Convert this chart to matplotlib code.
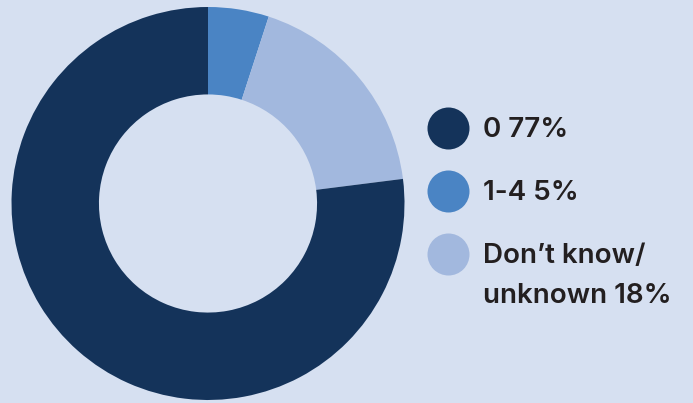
import matplotlib
matplotlib.use("Agg")
import matplotlib.pyplot as plt

# share of responses, drawn clockwise from 12 o'clock
ring_labels = ["1-4", "Don't know/\nunknown", "0"]
ring_values = [5, 18, 77]
ring_colors = ["#4a84c4", "#a2b8de", "#14335a"]

# key order on the right
key_labels = ["0", "1-4", "Don\u2019t know/\nunknown"]
key_values = [77, 5, 18]
key_colors = ["#14335a", "#4a84c4", "#a2b8de"]

BG = "#d6e0f1"
TXT = "#231f20"

W, H = 693, 403
fig = plt.figure(figsize=(W / 100, H / 100), dpi=100, facecolor=BG)

# donut, centre (208, 203.5) px, outer radius 196.5 px
cx, cy, r = 208, 203.5, 196.5
ax = fig.add_axes([(cx - r) / W, (H - cy - r) / H, 2 * r / W, 2 * r / H])
ax.pie(ring_values, colors=ring_colors, startangle=90, counterclock=False,
       radius=1.0, wedgeprops=dict(width=0.445, linewidth=0, antialiased=True))
ax.set_xlim(-1, 1); ax.set_ylim(-1, 1)
ax.set_aspect("equal")
ax.axis("off")

# key: dots + labels
kax = fig.add_axes([0, 0, 1, 1])
kax.set_xlim(0, W); kax.set_ylim(H, 0)
kax.axis("off")
ys = [128, 191, 254]
for y, lab, val, col in zip(ys, key_labels, key_values, key_colors):
    kax.scatter([448], [y], s=(42 * 0.72) ** 2, color=col, linewidths=0, zorder=3)
    lines = lab.split("\n")
    lines[-1] = f"{lines[-1]} {val}%"
    for i, ln in enumerate(lines):
        kax.text(483, y + 2 + i * 40, ln, fontsize=20, color=TXT, va="center",
                 ha="left", family="Inter", fontweight="semibold")

fig.savefig("out.png", dpi=100, facecolor=BG)
